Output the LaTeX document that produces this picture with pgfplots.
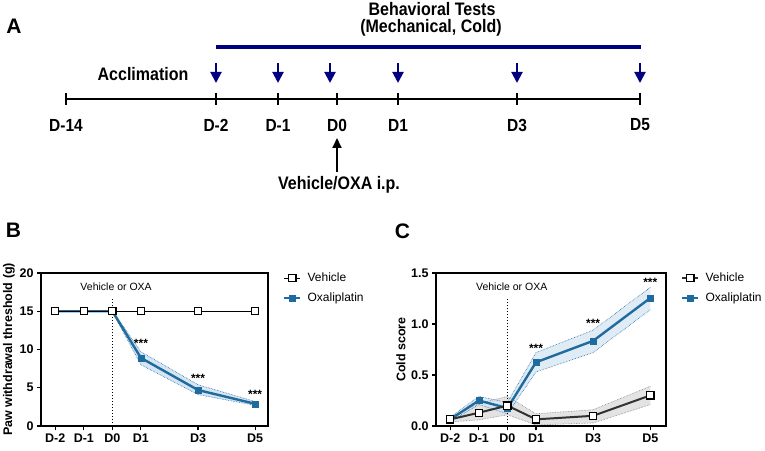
\documentclass[border=0pt]{standalone}
\usepackage{pgfplots}
\pgfplotsset{compat=1.18}
\usepackage{fontspec}
\setmainfont{Liberation Sans}
\usetikzlibrary{arrows.meta}

\definecolor{navy}{RGB}{0,0,128}
\definecolor{oxa}{RGB}{31,107,158}
\definecolor{oxaband}{RGB}{214,229,242}
\definecolor{vehband}{RGB}{218,218,218}
\definecolor{vehline}{RGB}{50,50,50}

\newcommand{\fs}[1]{\fontsize{#1}{#1}\selectfont}

\tikzset{
  stars/.style={font=\bfseries\fs{12}, yshift=-2.5pt},
  atext/.style={font=\bfseries\fs{16}, yscale=1.13},
  aday/.style={font=\bfseries\fs{15.5}, yscale=1.13},
  down/.style={navy, line width=2pt, -{Triangle[width=11pt,length=11pt]}},
}

\pgfplotsset{
  panel/.style={
    scale only axis, anchor=south west, clip=false,
    axis line style={line width=1.3pt},
    tick style={line width=1.1pt, black},
    major tick length=4pt, tick align=outside, tick pos=left,
    xtick={-2,-1,0,1,3,5},
    xticklabels={D-2,D-1,D0,D1,D3,D5},
    ticklabel style={font=\bfseries\fs{12.5}},
    /pgf/number format/assume math mode=true,
    ylabel style={font=\bfseries\fs{12.5}, anchor=center},
    legend style={at={(1,1)}, anchor=north west, xshift=12pt, yshift=4pt,
      draw=none, fill=none, font=\fs{12}, row sep=5.5pt},
    legend cell align=left,
    reverse legend,
    legend image code/.code={\draw[mark repeat=2,mark phase=2,##1] plot coordinates {(0pt,0pt)(8pt,0pt)(16pt,0pt)}; \path (20pt,0pt);},
  },
  oxaline/.style={oxa, line width=2.4pt, mark=square*, mark size=3pt, mark options={fill=oxa, line width=0.5pt}},
  bandedge/.style={densely dotted, line width=0.6pt, forget plot},
  vline/.style={black, line width=1pt, dash pattern=on 1.2pt off 1.8pt, forget plot},
}

\begin{document}
\begin{tikzpicture}[x=1pt,y=1pt]
\useasboundingbox (0,0) rectangle (765,450);

% ---- Panel A: timeline (pixel coordinates, y up) ----
\begin{axis}[at={(0pt,0pt)}, anchor=south west, width=765pt, height=450pt,
  scale only axis, hide axis, xmin=0, xmax=765, ymin=0, ymax=450, clip=false]
\addplot[navy, line width=3.2pt] coordinates {(216,403) (641,403)};
\addplot[black, line width=2.9pt, mark=|, mark size=6pt, mark options={line width=1.9pt}]
  coordinates {(66,351) (216,351) (278,351) (337,351) (398,351) (517,351) (640,351)};
\draw[down] (axis cs:216,387) -- (axis cs:216,367);
\draw[down] (axis cs:278,387) -- (axis cs:278,367);
\draw[down] (axis cs:330,387) -- (axis cs:330,367);
\draw[down] (axis cs:398,387) -- (axis cs:398,367);
\draw[down] (axis cs:517,387) -- (axis cs:517,367);
\draw[down] (axis cs:640,387) -- (axis cs:640,367);
\draw[black, line width=1.8pt, -{Triangle[width=9pt,length=10pt]}] (axis cs:337,278) -- (axis cs:337,312);
\node[atext] at (axis cs:432,441) {Behavioral Tests};
\node[atext] at (axis cs:431,422) {(Mechanical, Cold)};
\node[atext] at (axis cs:143,376) {Acclimation};
\node[atext] at (axis cs:339,265) {Vehicle/OXA i.p.};
\node[aday] at (axis cs:66,325) {D-14};
\node[aday] at (axis cs:216,325) {D-2};
\node[aday] at (axis cs:278,325) {D-1};
\node[aday] at (axis cs:337,325) {D0};
\node[aday] at (axis cs:398,325) {D1};
\node[aday] at (axis cs:517,325) {D3};
\node[aday] at (axis cs:640,325) {D5};
\node[font=\bfseries\fs{21}] at (axis cs:14,424) {A};
\node[font=\bfseries\fs{21}] at (axis cs:13.5,220) {B};
\node[font=\bfseries\fs{21}] at (axis cs:402.5,219) {C};
\end{axis}

% ---- Panel B: paw withdrawal threshold ----
\begin{axis}[panel, at={(41pt,24pt)}, width=227pt, height=153pt,
  xmin=-2.5, xmax=5.45, ymin=0, ymax=20, ytick={0,5,10,15,20},
  ylabel={Paw withdrawal threshold (g)},
  ylabel style={at={(axis description cs:-0.141,0.5)}}]
\addplot[fill=oxaband, draw=none, forget plot]
  coordinates {(0,15.1) (1,9.7) (3,5.4) (5,3.2) (5,2.7) (3,4.1) (1,8.0) (0,14.9)} -- cycle;
\addplot[oxa, bandedge] coordinates {(0,15.1) (1,9.7) (3,5.4) (5,3.2)};
\addplot[oxa, bandedge] coordinates {(0,14.9) (1,8.0) (3,4.1) (5,2.7)};
\addplot[vline] coordinates {(0,0) (0,16.6)};
\addplot[oxaline] coordinates {(-2,15) (-1,15) (0,15) (1,8.9) (3,4.7) (5,2.9)};
\addplot[black, line width=1pt, mark=square*, mark size=3.6pt, mark options={fill=white, line width=1.2pt}]
  coordinates {(-2,15) (-1,15) (0,15) (1,15) (3,15) (5,15)};
\legend{Oxaliplatin, Vehicle}
\node[font=\fs{10.5}] at (axis cs:0.13,18.2) {Vehicle or OXA};
\node[stars] at (axis cs:1,11.1) {***};
\node[stars] at (axis cs:3,6.5) {***};
\node[stars] at (axis cs:5,4.4) {***};
\end{axis}

% ---- Panel C: cold score ----
\begin{axis}[panel, at={(436pt,24pt)}, width=230pt, height=153pt,
  xmin=-2.5, xmax=5.55, ymin=0, ymax=1.5, ytick={0,0.5,1,1.5},
  yticklabel style={/pgf/number format/.cd, fixed, fixed zerofill, precision=1},
  ylabel={Cold score},
  ylabel style={at={(axis description cs:-0.153,0.5)}}]
\addplot[fill=vehband, fill opacity=0.75, draw=none, forget plot]
  coordinates {(-2,0.09) (-1,0.22) (0,0.29) (1,0.12) (3,0.16) (5,0.39)
               (5,0.21) (3,0.03) (1,0.01) (0,0.11) (-1,0.06) (-2,0.04)} -- cycle;
\addplot[fill=oxaband, fill opacity=0.75, draw=none, forget plot]
  coordinates {(-2,0.085) (-1,0.29) (0,0.23) (1,0.72) (3,0.94) (5,1.36)
               (5,1.14) (3,0.72) (1,0.53) (0,0.12) (-1,0.21) (-2,0.045)} -- cycle;
\addplot[gray, bandedge] coordinates {(-2,0.09) (-1,0.22) (0,0.29) (1,0.12) (3,0.16) (5,0.39)};
\addplot[gray, bandedge] coordinates {(-2,0.04) (-1,0.06) (0,0.11) (1,0.01) (3,0.03) (5,0.21)};
\addplot[oxa, bandedge] coordinates {(-2,0.085) (-1,0.29) (0,0.23) (1,0.72) (3,0.94) (5,1.36)};
\addplot[oxa, bandedge] coordinates {(-2,0.045) (-1,0.21) (0,0.12) (1,0.53) (3,0.72) (5,1.14)};
\addplot[vline] coordinates {(0,0) (0,1.245)};
\addplot[oxaline] coordinates {(-2,0.065) (-1,0.25) (0,0.175) (1,0.625) (3,0.835) (5,1.255)};
\addplot[vehline, line width=2pt, mark=square*, mark size=3.6pt, mark options={fill=white, draw=black, line width=1.2pt}]
  coordinates {(-2,0.065) (-1,0.13) (0,0.20) (1,0.065) (3,0.10) (5,0.30)};
\legend{Oxaliplatin, Vehicle}
\node[font=\fs{10.5}] at (axis cs:0.15,1.37) {Vehicle or OXA};
\node[stars] at (axis cs:1,0.79) {***};
\node[stars] at (axis cs:3,1.03) {***};
\node[stars] at (axis cs:5,1.43) {***};
\end{axis}
\end{tikzpicture}
\end{document}
